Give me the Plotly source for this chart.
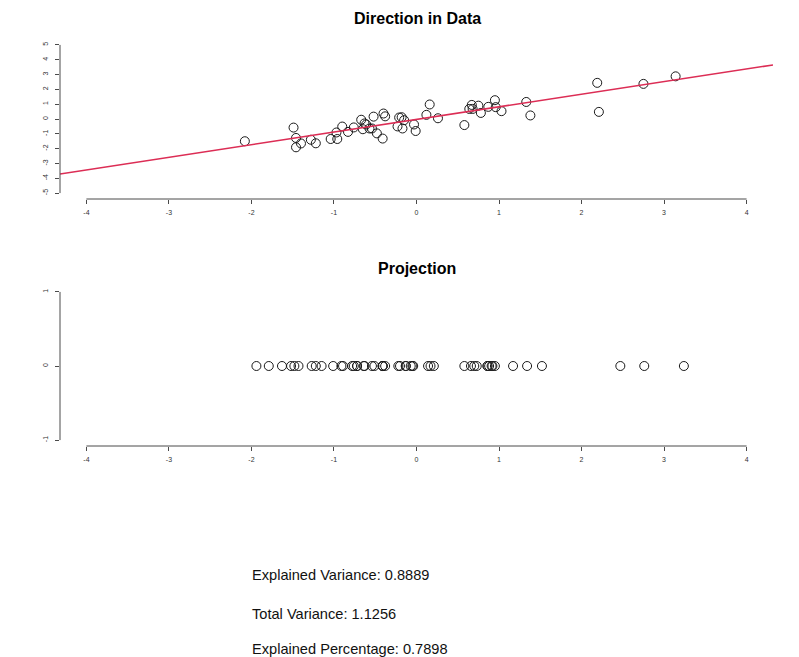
import plotly.graph_objects as go

# ---- data ----
data_x = [-2.08, -1.49, -1.46, -1.46, -1.40, -1.28, -1.22, -1.04, -0.96, -0.97,
          -0.90, -0.83, -0.76, -0.67, -0.65, -0.63, -0.61, -0.57, -0.54, -0.52,
          -0.48, -0.41, -0.40, -0.38, -0.23, -0.21, -0.18, -0.17, -0.15, -0.03,
          -0.01, 0.12, 0.16, 0.26, 0.58, 0.64, 0.67, 0.68, 0.75, 0.78,
          0.87, 0.95, 0.96, 1.03, 1.33, 1.38, 2.19, 2.21, 2.75, 3.14]
data_y = [-1.50, -0.58, -1.28, -1.91, -1.65, -1.40, -1.64, -1.35, -1.35, -0.91,
          -0.51, -0.87, -0.57, -0.05, -0.69, -0.30, -0.37, -0.64, -0.64, 0.16,
          -0.97, -1.32, 0.37, 0.18, -0.50, 0.10, 0.12, -0.64, -0.08, -0.37,
          -0.81, 0.28, 0.98, 0.05, -0.41, 0.68, 0.95, 0.68, 0.90, 0.41,
          0.82, 1.27, 0.80, 0.53, 1.15, 0.24, 2.44, 0.48, 2.37, 2.88]
proj_x = [-1.94, -1.15, -1.48, -1.79, -1.63, -1.43, -1.52, -1.27, -1.22, -1.01,
          -0.78, -0.91, -0.72, -0.41, -0.72, -0.51, -0.54, -0.64, -0.63, -0.22,
          -0.76, -0.89, -0.05, -0.13, -0.38, -0.07, -0.04, -0.41, -0.13, -0.20,
          -0.41, 0.21, 0.58, 0.17, 0.14, 0.70, 0.86, 0.73, 0.88, 0.66,
          0.91, 1.17, 0.95, 0.86, 1.34, 0.92, 2.47, 1.52, 2.76, 3.24]
line_slope = 0.852
line_intercept = -0.03

x_ticks = [-4, -3, -2, -1, 0, 1, 2, 3, 4]
top_y_ticks = [-5, -4, -3, -2, -1, 0, 1, 2, 3, 4, 5]
bottom_y_ticks = [-1, 0, 1]
x_range = [-4.32, 4.32]
top_y_range = [-5.4, 5.4]
bottom_y_range = [-1.08, 1.08]

title_top = "Direction in Data"
title_bottom = "Projection"
stats_lines = ["Explained Variance: 0.8889",
               "Total Variance: 1.1256",
               "Explained Percentage: 0.7898"]

# ---- figure ----
W, H = 799, 657
FONT = "Liberation Sans, Arial, Helvetica, sans-serif"
AX = "#4a4a4a"
PT = "#1a1a1a"
RED = "#DC2D55"

fig = go.Figure()
fig.add_trace(go.Scatter(x=data_x, y=data_y, mode="markers",
                         marker=dict(symbol="circle-open", size=9,
                                     color=PT, line=dict(width=1, color=PT)),
                         xaxis="x", yaxis="y", showlegend=False, hoverinfo="skip"))
fig.add_trace(go.Scatter(x=x_range,
                         y=[line_intercept + line_slope * v for v in x_range],
                         mode="lines", line=dict(color=RED, width=1.6),
                         xaxis="x", yaxis="y", showlegend=False, hoverinfo="skip"))
fig.add_trace(go.Scatter(x=proj_x, y=[0] * len(proj_x), mode="markers",
                         marker=dict(symbol="circle-open", size=9,
                                     color=PT, line=dict(width=1, color=PT)),
                         xaxis="x2", yaxis="y2", showlegend=False, hoverinfo="skip"))

x_dom = [60 / W, 773 / W]

def xaxis_cfg(anchor):
    return dict(domain=x_dom, anchor=anchor, range=x_range, showgrid=False,
                zeroline=False, showline=False, ticks="outside", ticklen=4,
                tickwidth=1, tickcolor=AX, tickvals=x_ticks,
                ticktext=[str(t) for t in x_ticks], ticklabelstandoff=3,
                tickfont=dict(size=7, color="#333", family=FONT), fixedrange=True)

def yaxis_cfg(anchor, dom, rng, ticks):
    return dict(domain=dom, anchor=anchor, range=rng, showgrid=False,
                zeroline=False, showline=False, ticks="outside", ticklen=4,
                tickwidth=1, tickcolor=AX, tickvals=ticks,
                ticktext=[str(t) for t in ticks], tickangle=-90,
                ticklabelstandoff=4,
                tickfont=dict(size=7, color="#333", family=FONT), fixedrange=True)

shapes = []
for xr, yr, yt in (("x", "y", top_y_ticks), ("x2", "y2", bottom_y_ticks)):
    shapes.append(dict(type="line", xref=xr, yref=yr + " domain",
                       x0=x_ticks[0], x1=x_ticks[-1], y0=0, y1=0,
                       line=dict(color=AX, width=1)))
    shapes.append(dict(type="line", xref=xr + " domain", yref=yr,
                       x0=0, x1=0, y0=yt[0], y1=yt[-1],
                       line=dict(color=AX, width=1)))

annotations = [
    dict(text="<b>" + title_top + "</b>", xref="paper", yref="paper",
         x=417.5 / W, y=1 - 18 / H, xanchor="center", yanchor="middle",
         showarrow=False, font=dict(size=16, color="#000", family=FONT)),
    dict(text="<b>" + title_bottom + "</b>", xref="paper", yref="paper",
         x=417 / W, y=1 - 268 / H, xanchor="center", yanchor="middle",
         showarrow=False, font=dict(size=16, color="#000", family=FONT)),
]
for txt, ypx in zip(stats_lines, [575, 614, 649]):
    annotations.append(dict(text=txt, xref="paper", yref="paper",
                            x=250 / W, y=1 - ypx / H, xanchor="left",
                            yanchor="middle", showarrow=False,
                            font=dict(size=14.6, color="#111", family=FONT)))

fig.update_layout(
    width=W, height=H, margin=dict(l=0, r=0, t=0, b=0),
    paper_bgcolor="white", plot_bgcolor="white",
    font=dict(family=FONT),
    xaxis=xaxis_cfg("y"),
    yaxis=yaxis_cfg("x", [1 - 199 / H, 1 - 39 / H], top_y_range, top_y_ticks),
    xaxis2=xaxis_cfg("y2"),
    yaxis2=yaxis_cfg("x2", [1 - 446 / H, 1 - 286 / H], bottom_y_range, bottom_y_ticks),
    shapes=shapes, annotations=annotations, showlegend=False,
)

fig.write_html("out.html", config={"displayModeBar": False})
